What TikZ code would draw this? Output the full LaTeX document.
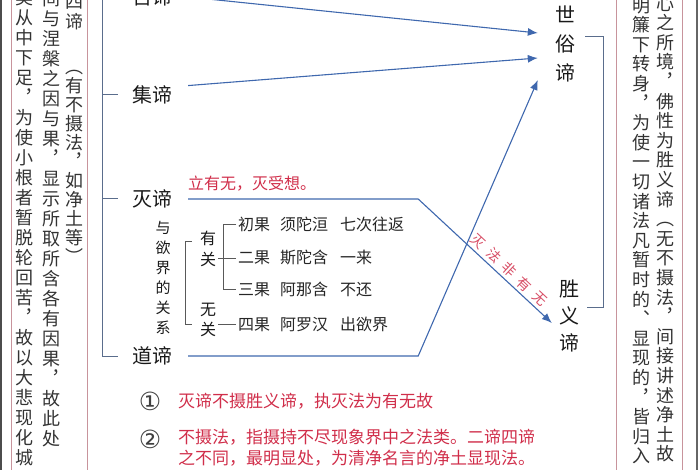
\documentclass[tikz,border=0pt]{standalone}
\usepackage{fontspec}
\setmainfont{Noto Sans CJK SC}
\newfontfamily\circfont{DejaVu Sans}
\usetikzlibrary{positioning,calc,arrows.meta}

\definecolor{linkblue}{HTML}{3F68AE}
\definecolor{braceblue}{HTML}{5A6D8C}
\definecolor{notered}{HTML}{D02E4A}
\definecolor{boxpink}{HTML}{C8949C}

% vertical text: one character per line
\newdimen\vpitch \vpitch=20pt
\def\vcolend{\vcolend}
\def\vcolA#1{\ifx#1\vcolend\else\hbox to 1em{\hss#1\hss}\expandafter\vcolA\fi}
\newcommand\vcol[1]{\vbox{\baselineskip=\vpitch\lineskiplimit=-\maxdimen\vcolA#1\vcolend}}

\tikzstyle{truth} = [inner sep=0,
                    text=black!90,
                    font=\fontsize{20}{24}\selectfont]
\tikzstyle{vside} = [inner sep=0,
                    text=black!80,
                    font=\fontsize{18}{20}\selectfont]
\tikzstyle{fruit} = [inner sep=0,
                    anchor=west,
                    text=black!85,
                    font=\fontsize{16}{18}\selectfont]
\tikzstyle{note} = [inner sep=0,
                   anchor=west,
                   text=notered,
                   font=\fontsize{17}{21}\selectfont]
\tikzstyle{circnum} = [inner sep=0,
                      text=black!75,
                      font=\circfont\fontsize{25}{26}\selectfont]
\tikzstyle{link} = [draw=linkblue, line width=1.1pt]
\tikzstyle{brace} = [draw=braceblue, line width=1pt]
\tikzstyle{boxline} = [draw=boxpink, line width=1pt]
\tikzstyle{diagram} = [x=1pt,
                      y=-1pt,
                      >={Latex[length=10pt,width=8pt]}]

\begin{document}
\begin{tikzpicture}[diagram]
    \useasboundingbox (0,0) rectangle (700,470);
    \clip (0,0) rectangle (700,470);

    % side boxes
    \draw[black!70, line width=1.2pt] (1,-5) -- (1,475);
    \draw[boxline] (11,-5) -- (11,475);
    \draw[boxline] (87,-5) -- (87,475);
    \draw[boxline] (616,-5) -- (616,475);
    \draw[boxline] (682,-5) -- (682,475);
    \draw[black!60, line width=1.2pt] (697,-5) -- (697,475);

    \node (lc1) [vside] at (25,228) {\vcol{类从中下足︐为使小根者暂脱轮回苦︐故以大悲现化城}};
    \node (lc2) [vside] at (51,219) {\vcol{间与涅槃之因与果︐显示所取所含各有因果︐故此处}};
    \node (lc3) [vside] at (74,12) {\vcol{四谛}};
    \node (lc4) [vside] at (74,167) {\vpitch=19pt\vcol{︵有不摄法︐如净土等︶}};
    \node (rc1) [vside] at (665,229) {\vpitch=19.6pt\vcol{心之所境︐佛性为胜义谛︵无不摄法︐间接讲述净土故}};
    \node (rc2) [vside] at (641,231) {\vpitch=19.6pt\vcol{明簾下转身︐为使一切诸法凡暂时的︑显现的︐皆归入}};

    % four truths and two truths
    \node (ku) [truth] at (152,-3) {苦谛};
    \node (ji) [truth] at (152,95) {集谛};
    \node (mie) [truth] at (152,199) {灭谛};
    \node (dao) [truth] at (152,356) {道谛};
    \node (shisu) [truth] at (565,44) {\vpitch=29pt\vcol{世俗谛}};
    \node (shengyi) [truth] at (569,316) {\vpitch=27pt\vcol{胜义谛}};

    \node (limie) [note, font=\fontsize{16}{18}\selectfont] at (188,184) {立有无，灭受想。};

    % relation to the desire realm
    \node (yujie) [truth, font=\fontsize{15}{18}\selectfont] at (163,278) {\vcol{与欲界的关系}};
    \node (youguan) [truth, font=\fontsize{16}{18}\selectfont] at (208,248.5) {\vpitch=21pt\vcol{有关}};
    \node (wuguan) [truth, font=\fontsize{16}{18}\selectfont] at (208,320) {\vcol{无关}};
    \node (chuguo) [fruit] at (238,224) {初果\hskip10pt 须陀洹\hskip12pt 七次往返};
    \node (erguo) [fruit, below=34pt of chuguo.west, anchor=west] {二果\hskip10pt 斯陀含\hskip12pt 一来};
    \node (sanguo) [fruit, below=31pt of erguo.west, anchor=west] {三果\hskip10pt 阿那含\hskip12pt 不还};
    \node (siguo) [fruit, below=35pt of sanguo.west, anchor=west] {四果\hskip10pt 阿罗汉\hskip12pt 出欲界};

    % notes
    \node (num1) [circnum] at (150,401) {①};
    \node (note1) [note] at (178,401) {灭谛不摄胜义谛，执灭法为有无故};
    \node (num2) [circnum] at (150,439) {②};
    \node (note2) [note, anchor=north west, align=left] at (178,429) {不摄法，指摄持不尽现象界中之法类。二谛四谛\\之不同，最明显处，为清净名言的净土显现法。};

    % brackets
    \draw[brace] ([xshift=-14pt]ku.west) -- ++(-15,0) |- ([xshift=-14pt]dao.west);
    \draw[brace] ([xshift=-14pt]ji.west) -- ++(-15,0)
                 ([xshift=-14pt]mie.west) -- ++(-15,0);
    \draw[brace] ([xshift=10pt,yshift=7pt]shisu.east) -- ++(18,0) |- ([xshift=8pt,yshift=9pt]shengyi.east);
    \draw[brace, draw=black!65] ([xshift=-8pt,yshift=7pt]youguan.west) -- ++(-6,0) |- ([xshift=-8pt,yshift=-4pt]wuguan.west);
    \draw[brace, draw=black!65] ([xshift=-2pt]chuguo.west) -- ++(-13,0) |- ([xshift=-2pt]sanguo.west);
    \draw[brace, draw=black!65] ($(youguan.east |- erguo.west)+(2,0)$) -- ([xshift=-2pt]erguo.west);
    \draw[brace, draw=black!65] ($(wuguan.east |- siguo.west)+(2,0)$) -- ([xshift=-2pt]siguo.west);

    % arrows
    \draw[->, link] ([xshift=16pt]ku.east) -- ($(shisu.west)+(-17,-11)$);
    \draw[->, link] ([xshift=16pt]ji.north east) -- ($(shisu.west)+(-17,14)$);
    \draw[->, link] ([xshift=16pt]dao.east) -- ++(230,0) -- ($(shisu.west)+(-17,36)$);
    \draw[->, link] ([xshift=16pt]mie.east) -- ++(230,0)
      -- node [pos=0.63, anchor=south, rotate=-43, inner sep=3pt, text=notered!85,
               font=\fontsize{14}{14}\selectfont]
               {灭\hskip7pt 法\hskip7pt 非\hskip7pt 有\hskip7pt 无}
      ($(shengyi.west)+(-7,7)$);

\end{tikzpicture}
\end{document}
